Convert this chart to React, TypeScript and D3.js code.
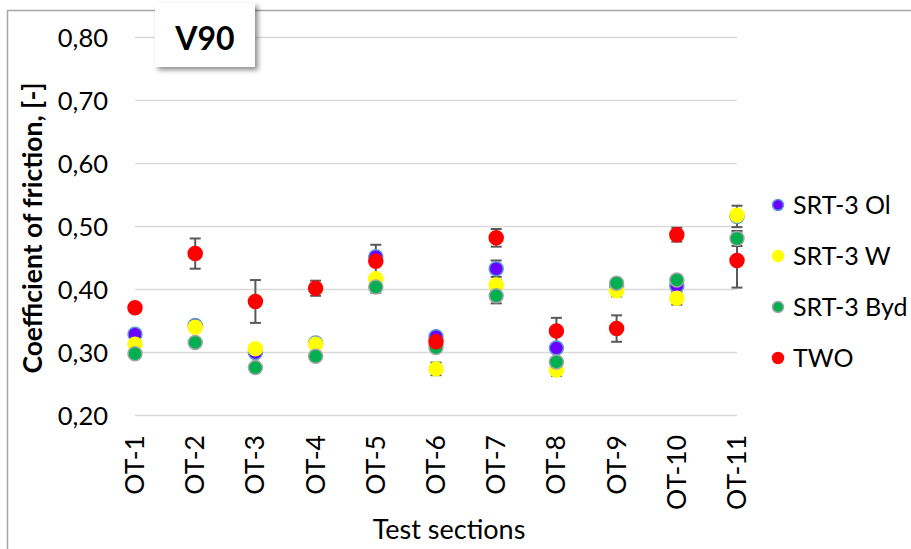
import React from "react";
import * as d3 from "d3";

const categories = ["OT-1", "OT-2", "OT-3", "OT-4", "OT-5", "OT-6", "OT-7", "OT-8", "OT-9", "OT-10", "OT-11"];
const yTicks = [0.2, 0.3, 0.4, 0.5, 0.6, 0.7, 0.8];

const srtOl = [0.329, 0.343, 0.300, 0.315, 0.452, 0.325, 0.433, 0.307, 0.405, 0.406, 0.516];
const srtOlErr = [0.004, 0.004, 0.004, 0.004, 0.006, 0.004, 0.013, 0.006, 0.006, 0.005, 0.017];
const srtW = [0.313, 0.340, 0.306, 0.313, 0.417, 0.274, 0.407, 0.272, 0.398, 0.386, 0.518];
const srtWErr = [0.004, 0.004, 0.004, 0.004, 0.006, 0.010, 0.008, 0.009, 0.009, 0.010, 0.004];
const srtByd = [0.298, 0.316, 0.276, 0.294, 0.404, 0.308, 0.390, 0.285, 0.410, 0.415, 0.481];
const srtBydErr = [0.004, 0.004, 0.004, 0.004, 0.009, 0.004, 0.012, 0.006, 0.006, 0.006, 0.012];
const two = [0.371, 0.457, 0.381, 0.402, 0.445, 0.317, 0.482, 0.334, 0.338, 0.487, 0.446];
const twoErr = [0.004, 0.024, 0.034, 0.012, 0.026, 0.004, 0.014, 0.021, 0.021, 0.011, 0.043];

const seriesNames = ["SRT-3 Ol", "SRT-3 W", "SRT-3 Byd", "TWO"];

const series = [
  { name: seriesNames[0], values: srtOl, err: srtOlErr, fill: "#6A00FF", stroke: "#5B9BD5" },
  { name: seriesNames[1], values: srtW, err: srtWErr, fill: "#FFFF00", stroke: "#FFFF00" },
  { name: seriesNames[2], values: srtByd, err: srtBydErr, fill: "#00B050", stroke: "#A5A5A5" },
  { name: seriesNames[3], values: two, err: twoErr, fill: "#FF0000", stroke: "#FF0000" },
];

const W = 911;
const H = 549;
const FONT = "Lato, 'Open Sans', sans-serif";

export default function App() {
  const x = d3.scalePoint<string>().domain(categories).range([135, 737]).padding(0);
  const y = d3.scaleLinear().domain([0.2, 0.8]).range([415.5, 37.5]);
  const fmt = (v: number) => d3.format(".2f")(v).replace(".", ",");
  const capW = 5.5;

  return (
    <svg width={W} height={H} style={{ position: "absolute", left: 0, top: 0, background: "#fff" }}>
      <defs>
        <filter id="shadow" x="-20%" y="-20%" width="140%" height="150%">
          <feGaussianBlur in="SourceAlpha" stdDeviation="2.5" />
          <feOffset dx="3" dy="3" result="ob" />
          <feComponentTransfer>
            <feFuncA type="linear" slope="0.45" />
          </feComponentTransfer>
          <feMerge>
            <feMergeNode />
            <feMergeNode in="SourceGraphic" />
          </feMerge>
        </filter>
      </defs>
      <rect x={0} y={0} width={W} height={H} fill="#fff" />
      {/* outer frame */}
      <rect x={7.5} y={10.5} width={W + 20} height={H + 20} fill="none" stroke="#A6A6A6" strokeWidth={1.5} />

      {/* gridlines */}
      {yTicks.map((t) => (
        <line key={"g" + t} x1={135} x2={737} y1={y(t)} y2={y(t)} stroke="#D9D9D9" strokeWidth={1.5} />
      ))}
      {/* y tick labels */}
      {yTicks.map((t) => (
        <text key={"yl" + t} x={108} y={y(t) + 9} textAnchor="end" fontFamily={FONT} fontSize={25.5} fill="#000">
          {fmt(t)}
        </text>
      ))}
      {/* x labels */}
      {categories.map((c) => (
        <text
          key={"xl" + c}
          transform={`translate(${(x(c) as number) + 9},${435}) rotate(-90)`}
          textAnchor="end"
          fontFamily={FONT}
          fontSize={26.5}
          fill="#000"
        >
          {c}
        </text>
      ))}
      {/* axis titles */}
      <text x={449} y={539} textAnchor="middle" fontFamily={FONT} fontSize={27} fill="#000">
        Test sections
      </text>
      <text
        transform={`translate(42,228) rotate(-90)`}
        textAnchor="middle"
        fontFamily={FONT}
        fontSize={26.5}
        fontWeight="bold"
        fill="#000"
      >
        Coefficient of friction, [-]
      </text>

      {/* error bars */}
      {series.map((s) => (
        <g key={"e" + s.name} stroke="#595959" strokeWidth={2}>
          {s.values.map((v, i) => {
            const cx = x(categories[i]) as number;
            const y1 = y(v + s.err[i]);
            const y2 = y(v - s.err[i]);
            return (
              <g key={i}>
                <line x1={cx} x2={cx} y1={y1} y2={y2} />
                <line x1={cx - capW} x2={cx + capW} y1={y1} y2={y1} />
                <line x1={cx - capW} x2={cx + capW} y1={y2} y2={y2} />
              </g>
            );
          })}
        </g>
      ))}
      {/* markers */}
      {series.map((s) => (
        <g key={"m" + s.name}>
          {s.values.map((v, i) => (
            <circle
              key={i}
              cx={x(categories[i]) as number}
              cy={y(v)}
              r={7}
              fill={s.fill}
              stroke={s.stroke}
              strokeWidth={1.5}
            />
          ))}
        </g>
      ))}

      {/* legend */}
      {series.map((s, i) => {
        const ly = 205 + i * 51;
        return (
          <g key={"lg" + s.name}>
            <circle cx={778} cy={ly} r={5.5} fill={s.fill} stroke={s.stroke} strokeWidth={1.5} />
            <text x={793} y={ly + 9} fontFamily={FONT} fontSize={25} fill="#000">
              {s.name}
            </text>
          </g>
        );
      })}

      {/* title box */}
      <g filter="url(#shadow)">
        <rect x={155} y={3} width={100} height={64} fill="#fff" />
      </g>
      <text x={205} y={50} textAnchor="middle" fontFamily={FONT} fontSize={32} fontWeight="bold" fill="#000">
        V90
      </text>
    </svg>
  );
}
